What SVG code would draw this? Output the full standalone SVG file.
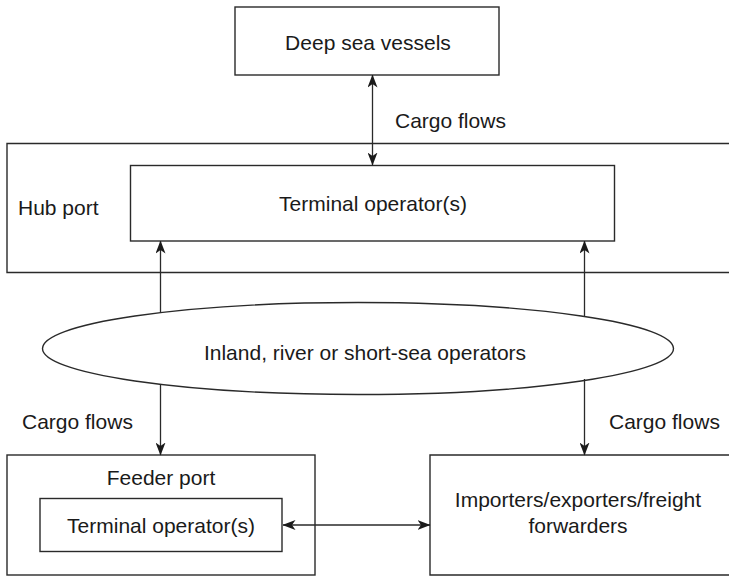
<svg xmlns="http://www.w3.org/2000/svg" width="729" height="576" viewBox="0 0 729 576">
  <style>
    .box { fill: none; stroke: #2a2a2a; stroke-width: 1.4; }
    .line { fill: none; stroke: #2a2a2a; stroke-width: 1.3; }
    text { font-family: "Liberation Sans", Arial, sans-serif; font-size: 21px; fill: #1a1a1a; }
    .c { text-anchor: middle; }
  </style>
  <defs>
    <marker id="head" viewBox="0 0 13 10" refX="12.5" refY="5" markerWidth="13" markerHeight="10" markerUnits="userSpaceOnUse" orient="auto-start-reverse">
      <path d="M0,0 L13,5 L0,10 L3.5,5 Z" fill="#1a1a1a"/>
    </marker>
  </defs>
  <rect width="729" height="576" fill="#ffffff"/>

  <g id="deep-sea">
    <rect class="box" x="235" y="7" width="264" height="68"/>
    <text class="c" x="368" y="50">Deep sea vessels</text>
  </g>

  <g id="hub-port">
    <path class="box" d="M731,143.5 H7 V272.5 H731"/>
    <text x="18" y="215">Hub port</text>
  </g>

  <g id="hub-terminal">
    <rect class="box" x="130.5" y="165.5" width="484" height="75.5"/>
    <text class="c" x="373" y="211">Terminal operator(s)</text>
  </g>

  <g id="inland-operators">
    <ellipse class="box" cx="358" cy="348.5" rx="315.5" ry="46"/>
    <text class="c" x="365" y="360">Inland, river or short-sea operators</text>
  </g>

  <g id="feeder-port">
    <rect class="box" x="7" y="455" width="308" height="120"/>
    <text class="c" x="161" y="485">Feeder port</text>
  </g>

  <g id="feeder-terminal">
    <rect class="box" x="40" y="498.5" width="242" height="53"/>
    <text class="c" x="161" y="533">Terminal operator(s)</text>
  </g>

  <g id="importers">
    <path class="box" d="M731,455 H430 V575 H731"/>
    <text class="c" x="578" y="507">Importers/exporters/freight</text>
    <text class="c" x="578" y="533">forwarders</text>
  </g>

  <g id="connectors">
    <line class="line" x1="372.5" y1="75" x2="372.5" y2="165" marker-start="url(#head)" marker-end="url(#head)"/>
    <line class="line" x1="160.5" y1="312" x2="160.5" y2="241" marker-end="url(#head)"/>
    <line class="line" x1="584.5" y1="316" x2="584.5" y2="241" marker-end="url(#head)"/>
    <line class="line" x1="160.5" y1="384" x2="160.5" y2="455" marker-end="url(#head)"/>
    <line class="line" x1="584.5" y1="379" x2="584.5" y2="455" marker-end="url(#head)"/>
    <line class="line" x1="283" y1="525" x2="430" y2="525" marker-start="url(#head)" marker-end="url(#head)"/>
  </g>

  <g id="labels">
    <text x="395" y="128">Cargo flows</text>
    <text x="22" y="429">Cargo flows</text>
    <text x="609" y="429">Cargo flows</text>
  </g>
</svg>
